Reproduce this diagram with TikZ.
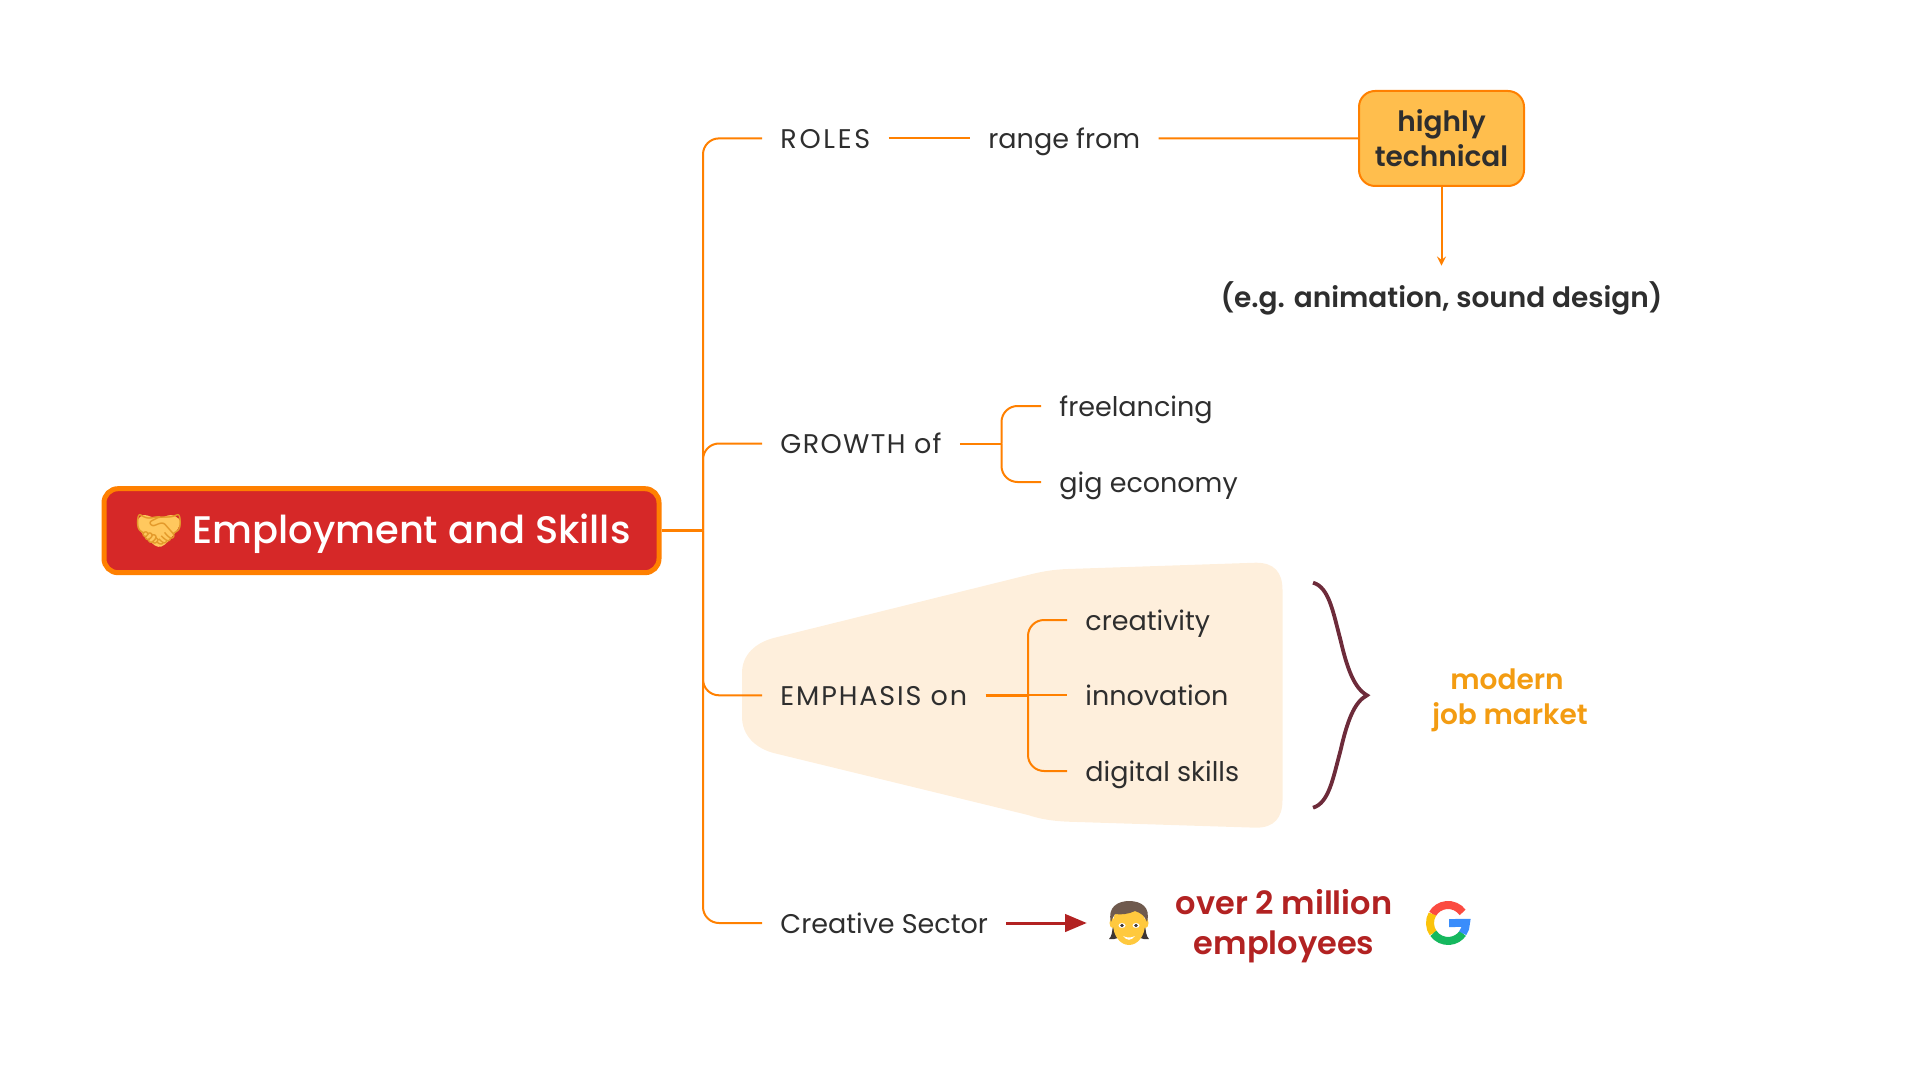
\documentclass[tikz,border=0pt]{standalone}
\usepackage{fontspec}
\usepackage{xcolor}
\setmainfont{Poppins}[BoldFont=Poppins SemiBold]
\newfontfamily\rootfont{Poppins Medium}
\newfontfamily\emojifont{Noto Emoji}
\usetikzlibrary{shapes.geometric, arrows, positioning, calc}
\definecolor{branchorange}{HTML}{FF8000}
\definecolor{rootred}{HTML}{D62828}
\definecolor{techfill}{HTML}{FFBE4D}
\definecolor{shakefill}{HTML}{FFC85E}
\definecolor{shakeline}{HTML}{E39A2B}
\definecolor{inktext}{HTML}{2E2E2E}
\definecolor{bandfill}{HTML}{FEEFDC}
\definecolor{bracewine}{HTML}{6D2B3A}
\definecolor{marketorange}{HTML}{F39C12}
\definecolor{millionred}{HTML}{B22222}
\definecolor{hairbrown}{HTML}{6F5A4E}
\definecolor{hairdark}{HTML}{3D3533}
\definecolor{skinyellow}{HTML}{FFC93E}
\definecolor{gred}{HTML}{FB4B41}
\definecolor{gyellow}{HTML}{FBC30B}
\definecolor{ggreen}{HTML}{15B85E}
\definecolor{gblue}{HTML}{3A8DFB}
\tikzset{
  branch/.style={draw=branchorange, line width=1pt, rounded corners=8pt},
  item/.style={anchor=west, inner xsep=9pt, inner ysep=0pt, text=inktext,
    text height=10pt, text depth=0pt, font=\fontsize{13.5}{16}\selectfont},
  boldnote/.style={align=center, inner sep=0pt, font=\bfseries\fontsize{14}{17.5}\selectfont}
}
\begin{document}
\begin{tikzpicture}[x=0.5pt,y=-0.5pt]
\useasboundingbox (0,0) rectangle (1920,1080);

% Highlight band
\fill[bandfill] (1256,562.7) .. controls (1274,562.7) and (1282.5,572) .. (1282.5,590)
  -- (1282.5,800) .. controls (1282.5,818) and (1274,827.7) .. (1256,827.7)
  -- (1068,821.7) .. controls (1052,821) and (1040,819) .. (1028,815)
  -- (773.6,753) .. controls (755,748) and (742,735) .. (742,716.7)
  -- (742,673) .. controls (742,655) and (755,643) .. (773.6,638)
  -- (1028,575) .. controls (1040,572) and (1052,569.5) .. (1068,569) -- cycle;

% Root
\node[draw=branchorange, fill=rootred, line width=2.5pt, rounded corners=7pt, text=white,
  minimum width=277.5pt, minimum height=42pt, inner sep=0pt, text height=13.2pt, text depth=0pt,
  font=\rootfont\fontsize{19.2}{24}\selectfont] (root) at (381.5,530.7)
  {\hspace*{30pt}Employment and Skills};
\fill[shakefill, rounded corners=2pt] (136,521) -- (143,514) -- (158,519) -- (172,514) -- (182,521)
  -- (176,532) -- (165,545) -- (158,548) -- (147,539) -- (140,531) -- cycle;
\node[inner sep=0pt, text=shakeline, font=\emojifont\fontsize{20}{24}\selectfont] (shake) at (159,530) {🤝};

% Main branches
\coordinate (trunk) at (703,530.7);
\node[item] (roles) at (762,138.4) {\addfontfeature{LetterSpace=10}ROLES};
\node[item] (growth) at (762,443.5) {\addfontfeature{LetterSpace=5}GROWTH of};
\node[item] (emphasis) at (762,695.3) {\addfontfeature{LetterSpace=7}EMPHASIS on};
\node[item] (sector) at (762,923) {Creative Sector};
\draw[branch, line width=1.25pt] (root.east) -- (trunk);
\foreach \target in {roles,growth,emphasis,sector} {
    \draw[branch] (trunk) |- (\target.west);
}

% Roles
\node[item] (range) at (970,138.4) {range from};
\node[draw=branchorange, fill=techfill, line width=1pt, rounded corners=8pt,
  minimum width=82.5pt, minimum height=47.5pt, inner sep=0pt, text=inktext,
  boldnote] (technical) at (1441.5,138.5) {highly\\technical};
\node[boldnote, text=inktext, minimum height=32pt] (example) at (1441.5,298)
  {(e.g. animation, sound design)};
\draw[branch] (roles.east) -- (range.west);
\draw[branch] (range.east) -- (technical.west);
\draw[branch, ->, >=stealth] (technical.south) -- (example.north);

% Growth
\coordinate (growthjoin) at (1001.5,443.5);
\draw[branch] (growth.east) -- (growthjoin);
\foreach \name/\txt/\ypos in {free/freelancing/406, gig/gig economy/482} {
    \node[item] (\name) at (1041,\ypos) {\txt};
    \draw[branch] (growthjoin) |- (\name.west);
}

% Emphasis
\coordinate (emphjoin) at (1028,695.3);
\draw[branch, line width=1.75pt] (emphasis.east) -- (emphjoin);
\foreach \name/\txt/\ypos in {creat/creativity/620, digital/digital skills/771} {
    \node[item] (\name) at (1067,\ypos) {\txt};
    \draw[branch] (emphjoin) |- (\name.west);
}
\node[item] (innov) at (1067,695.3) {innovation};
\draw[branch] (emphjoin) -- (innov.west);

% Brace and its note
\draw[bracewine, line width=1.9pt] (1313,582.7) .. controls (1329,587) and (1333,612) .. (1340.5,640)
  .. controls (1347,668) and (1354,688) .. (1367,695.3)
  .. controls (1354,702) and (1347,722) .. (1340.5,750.6)
  .. controls (1333,778) and (1329,803) .. (1313,807.7);
\node[boldnote, text=marketorange] (market) at (1510,700) {modern\hspace*{3pt}\\job market};

% Creative sector
\node[inner sep=0pt, minimum size=42pt] (person) at (1129,923) {};
\draw[branch, draw=millionred, line width=1.5pt, -triangle 45] (sector.east) -- (person.west);
\fill[hairdark] (1113,925) .. controls (1112,932) and (1112,936) .. (1109,939) .. controls (1116,940) and (1120,938) .. (1121,932) -- cycle
  (1145,925) .. controls (1146,932) and (1146,936) .. (1149,939) .. controls (1142,940) and (1138,938) .. (1137,932) -- cycle;
\fill[skinyellow] (1112.5,923) ellipse (3 and 5) (1145.5,923) ellipse (3 and 5);
\fill[skinyellow] (1129,924) ellipse (16 and 21);
\fill[hairbrown] (1111,922) .. controls (1107,907) and (1118,901) .. (1129,901)
  .. controls (1141,901) and (1151,907) .. (1147,922) .. controls (1145,916) and (1141,913) .. (1135,911)
  .. controls (1129,914) and (1121,915) .. (1115,914) .. controls (1113,917) and (1112,919) .. (1111,922) -- cycle;
\fill[white] (1122,925.5) ellipse (3.5 and 2.5) (1136,925.5) ellipse (3.5 and 2.5);
\fill[hairdark] (1122,925.5) circle (1.8) (1136,925.5) circle (1.8);
\fill[white] (1123,936) .. controls (1127,938) and (1131,938) .. (1135,936) .. controls (1131,941) and (1127,941) .. (1123,936) -- cycle;
\node[align=center, inner sep=0pt, text=millionred, font=\bfseries\fontsize{16}{20}\selectfont] (million) at (1284,926)
  {over 2 million\\employees};

% Google mark
\begin{scope}[shift={(1448,923)}, y=0.5pt, line width=4pt]
  \draw[gred] (14.6,10.6) arc (36:150:18);
  \draw[gyellow] (-15.6,9) arc (150:215:18);
  \draw[ggreen] (-14.7,-10.3) arc (215:325:18);
  \draw[gblue] (14.7,-10.3) arc (325:360:18) -- (1,0);
\end{scope}
\end{tikzpicture}
\end{document}
